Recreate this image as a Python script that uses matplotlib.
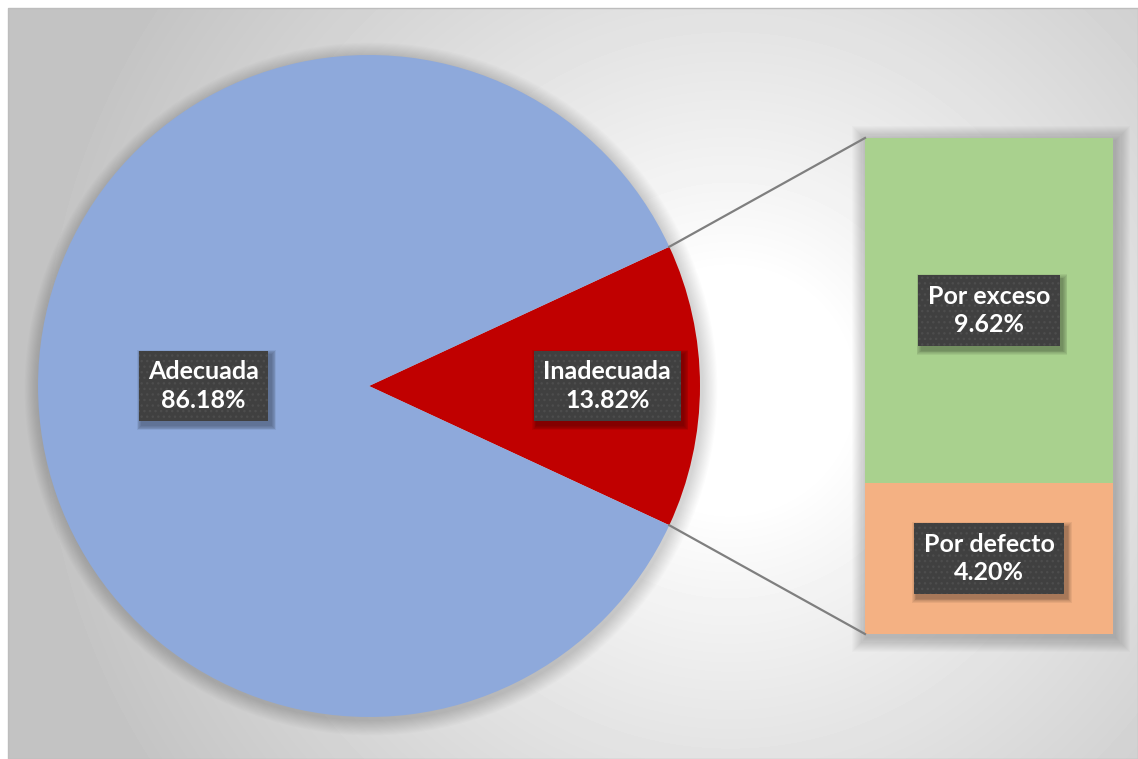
import numpy as np
import matplotlib.pyplot as plt
from matplotlib.patches import Rectangle, Circle

# ---- data ----
main_labels = ['Inadecuada', 'Adecuada']
main_values = [13.82, 86.18]
sub_labels = ['Por defecto', 'Por exceso']
sub_values = [4.20, 9.62]
main_colors = ['#C00000', '#8EA9DB']
sub_colors = ['#F4B183', '#A9D18E']

W, H = 1138, 759
fig = plt.figure(figsize=(W / 100, H / 100), dpi=100)
fig.patch.set_facecolor('white')
ax = fig.add_axes([0, 0, 1, 1])

# ---- background radial gradient (chart area) ----
x0, ytop = 8, 8
yy, xx = np.mgrid[ytop:H, x0:W]
cx, cy = 730, 390
r = np.hypot(xx - cx, yy - cy)
t = np.clip((r - 120) / (700 - 120), 0, 1)
g = 1 - (1 - 0.765) * t ** 0.9
ax.imshow(g, cmap='gray', vmin=0, vmax=1, extent=(x0, W, 0, H - ytop),
          origin='upper', zorder=0, interpolation='bilinear')
ax.add_patch(Rectangle((x0, 0), W - x0, H - ytop, fill=False, ec='#bdbdbd', lw=1.0, zorder=1))

# ---- geometry ----
pc = (369, H - 386)
R = 331
bar_x, bar_w = 989, 248
bar_bottom, bar_top = H - 634, H - 138
scale = (bar_top - bar_bottom) / sum(sub_values)

# soft shadows
for k in range(14, 0, -1):
    ax.add_patch(Circle((pc[0] + 2, pc[1] - 3), R + k * 1.1, fc='black', ec='none', alpha=0.012, zorder=2))
    ax.add_patch(Rectangle((bar_x - bar_w / 2 + 2 - k * 1.1, bar_bottom - 3 - k * 1.1),
                           bar_w + k * 2.2, bar_top - bar_bottom + k * 2.2,
                           fc='black', ec='none', alpha=0.016, zorder=2))

start = -main_values[0] * 3.6 / 2
wedges, _ = ax.pie(main_values, colors=main_colors, startangle=start, center=pc, radius=R,
                   wedgeprops=dict(linewidth=0, zorder=3), frame=True)

bottom = bar_bottom
bar_centers = []
for v, c in zip(sub_values, sub_colors):
    h = v * scale
    ax.bar(bar_x, h, width=bar_w, bottom=bottom, color=c, linewidth=0, zorder=3)
    bar_centers.append(bottom + h / 2)
    bottom += h

# connector lines
half = np.deg2rad(main_values[0] * 3.6 / 2)
p_up = (pc[0] + R * np.cos(half), pc[1] + R * np.sin(half))
p_dn = (pc[0] + R * np.cos(-half), pc[1] + R * np.sin(-half))
ax.plot([p_up[0], bar_x - bar_w / 2], [p_up[1], bar_top], color='#7f7f7f', lw=1.6, zorder=4)
ax.plot([p_dn[0], bar_x - bar_w / 2], [p_dn[1], bar_bottom], color='#7f7f7f', lw=1.6, zorder=4)

ax.set_xlim(0, W)
ax.set_ylim(0, H)
ax.set_aspect('auto')
ax.axis('off')

# ---- labels ----
font = dict(family=['Lato', 'DejaVu Sans'], fontweight='bold', fontsize=18, color='white')
box = dict(boxstyle='square,pad=0.38', fc='#404040', ec='#4d4d4d', lw=0, hatch='...')
label_pos = [(pc[0] + 0.72 * R, pc[1]), (pc[0] - 0.5 * R, pc[1])]
texts = []
for lab, v, (lx, ly) in zip(main_labels, main_values, label_pos):
    texts.append(ax.text(lx, ly, f'{lab}\n{v:.2f}%', ha='center', va='center', linespacing=1.3,
                         zorder=7, bbox=box, **font))
for lab, v, yc in zip(sub_labels, sub_values, bar_centers):
    texts.append(ax.text(bar_x, yc, f'{lab}\n{v:.2f}%', ha='center', va='center', linespacing=1.3,
                         zorder=7, bbox=box, **font))

fig.canvas.draw()
inv = ax.transData.inverted()
for tx in texts:
    bb = tx.get_bbox_patch().get_window_extent()
    (ax0, ay0), (ax1, ay1) = inv.transform([[bb.x0, bb.y0], [bb.x1, bb.y1]])
    for k in range(6, 0, -1):
        ax.add_patch(Rectangle((ax0 + 3 - k * 0.8, ay0 - 4 - k * 0.8), (ax1 - ax0) + k * 1.6,
                               (ay1 - ay0) + k * 1.6, fc='black', ec='none', alpha=0.06, zorder=6))

fig.savefig('out.png', dpi=100)
